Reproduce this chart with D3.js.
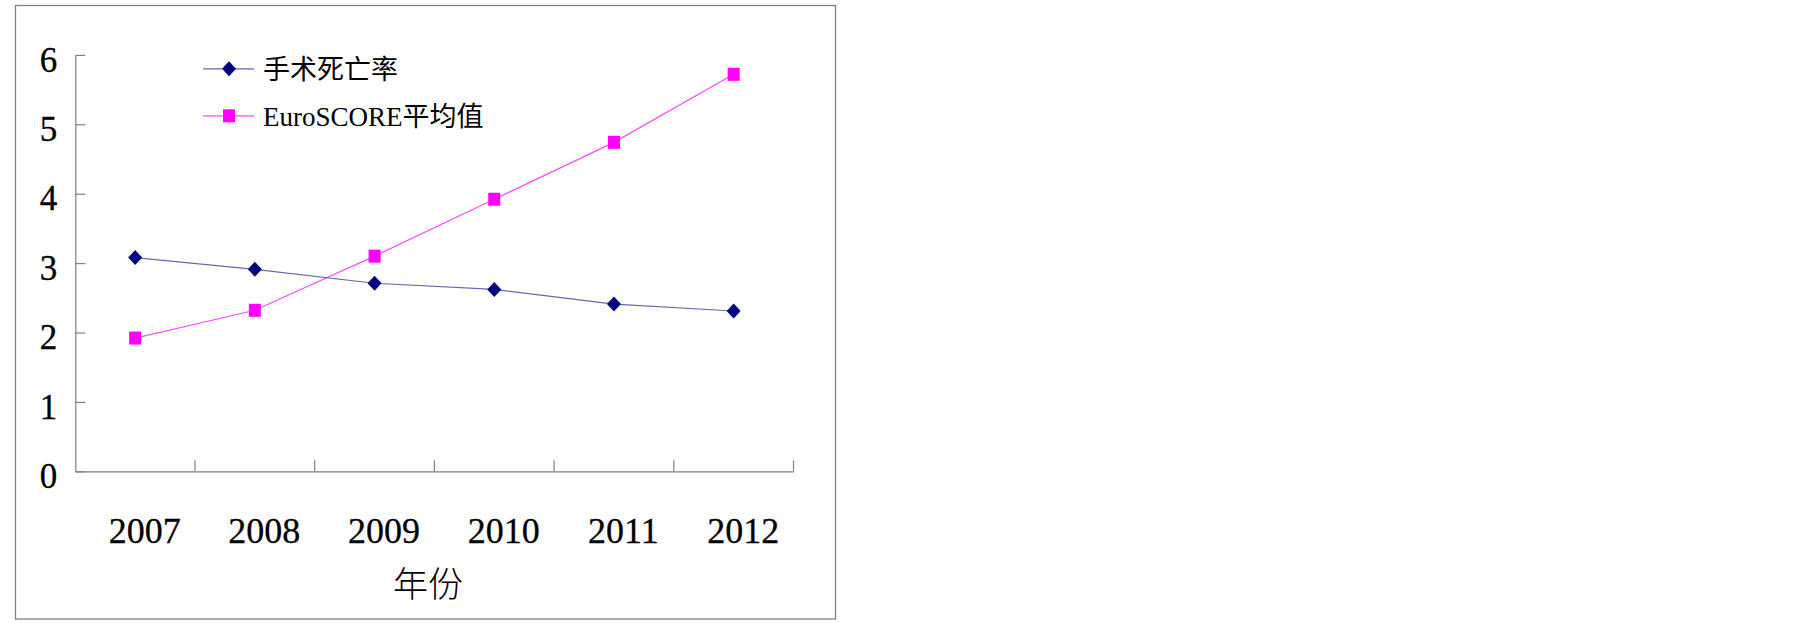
<!DOCTYPE html>
<html>
<head>
<meta charset="utf-8">
<script src="https://cdn.jsdelivr.net/npm/d3@7"></script>
<style>
    body { margin: 0; background: #fff; }
    .frame { fill: none; stroke: #808080; stroke-width: 1.3; }
    .axis path, .axis line { stroke: #808080; stroke-width: 1.2; }
    .axis text { font-family: "Liberation Serif", "Times New Roman", serif; fill: #000; }
    .legend text { font-family: "Liberation Serif", "Noto Sans CJK SC", serif; font-size: 27px; }
</style>
</head>
<body>
<script>
//chart data
var years = ["2007", "2008", "2009", "2010", "2011", "2012"];
var mortality = [3.08, 2.91, 2.71, 2.62, 2.41, 2.31];
var euroscore = [1.92, 2.32, 3.10, 3.92, 4.74, 5.72];
var yTicks = [0, 1, 2, 3, 4, 5, 6];
var seriesNames = ["手术死亡率", "EuroSCORE平均值"];
var xTitle = "年份";

window.onload = drawChart();

function drawChart(){
    var width = 1805,
        height = 623;

    var svg = d3.select("body")
        .append("svg")
        .attr("width", width)
        .attr("height", height);

    //outer chart frame
    svg.append("rect")
        .attr("class", "frame")
        .attr("x", 15.5)
        .attr("y", 5.5)
        .attr("width", 820)
        .attr("height", 613.5);

    //scales
    var x = d3.scaleBand()
        .domain(years)
        .range([75.3, 793.5]);

    var y = d3.scaleLinear()
        .domain([0, 6])
        .range([471.3, 54.9]);

    var cx = function(d, i){ return x(years[i]) + x.bandwidth() / 2; };

    //y axis with inward ticks
    var yAxis = svg.append("g")
        .attr("class", "axis")
        .attr("transform", "translate(" + x.range()[0] + ",0)")
        .call(d3.axisLeft(y)
            .tickValues(yTicks)
            .tickFormat(d3.format("d"))
            .tickSizeInner(-10)
            .tickSizeOuter(0)
            .tickPadding(18));
    yAxis.attr("font-family", null);
    yAxis.selectAll("text")
        .attr("font-size", "35px")
        .attr("stroke", "#000")
        .attr("stroke-width", 0.3)
        .attr("dy", "0.46em");

    //x axis: line plus category boundary ticks
    var xAxis = svg.append("g")
        .attr("class", "axis")
        .attr("transform", "translate(0," + y(0) + ")")
        .call(d3.axisBottom(x)
            .tickSize(0)
            .tickSizeOuter(0)
            .tickPadding(0));
    xAxis.attr("font-family", null);
    xAxis.selectAll("text")
        .attr("font-size", "36px")
        .attr("stroke", "#000")
        .attr("stroke-width", 0.3)
        .attr("dx", "9.5")
        .attr("dy", null)
        .attr("y", 72);

    xAxis.selectAll(".bound")
        .data(years)
        .enter()
        .append("line")
        .attr("class", "bound")
        .attr("x1", function(d){ return x(d) + x.bandwidth(); })
        .attr("x2", function(d){ return x(d) + x.bandwidth(); })
        .attr("y1", 0)
        .attr("y2", -11);

    //x axis title
    svg.append("text")
        .attr("x", 428)
        .attr("y", 597)
        .attr("text-anchor", "middle")
        .attr("font-family", "Noto Sans CJK SC")
        .attr("font-weight", 300)
        .attr("font-size", "35px")
        .text(xTitle);

    //lines
    var line = d3.line()
        .x(cx)
        .y(function(d){ return y(d); });

    svg.append("path")
        .datum(mortality)
        .attr("fill", "none")
        .attr("stroke", "#000080")
        .attr("stroke-opacity", 0.6)
        .attr("stroke-width", 1.2)
        .attr("d", line);

    svg.append("path")
        .datum(euroscore)
        .attr("fill", "none")
        .attr("stroke", "#ff00ff")
        .attr("stroke-opacity", 0.7)
        .attr("stroke-width", 1.2)
        .attr("d", line);

    //markers
    var diamond = "M0,-7.5L7,0L0,7.5L-7,0Z";

    svg.selectAll(".diamond")
        .data(mortality)
        .enter()
        .append("path")
        .attr("class", "diamond")
        .attr("d", diamond)
        .attr("fill", "#000080")
        .attr("transform", function(d, i){
            return "translate(" + cx(d, i) + "," + y(d) + ")";
        });

    svg.selectAll(".square")
        .data(euroscore)
        .enter()
        .append("rect")
        .attr("class", "square")
        .attr("x", function(d, i){ return cx(d, i) - 6; })
        .attr("y", function(d){ return y(d) - 6.5; })
        .attr("width", 12)
        .attr("height", 13)
        .attr("fill", "#ff00ff");

    //legend
    var legend = svg.append("g")
        .attr("class", "legend");

    var items = legend.selectAll(".item")
        .data(seriesNames)
        .enter()
        .append("g")
        .attr("class", "item")
        .attr("transform", function(d, i){
            return "translate(203," + (68.8 + i * 47) + ")";
        });

    items.append("line")
        .attr("x1", 0)
        .attr("x2", 51)
        .attr("stroke", function(d, i){ return i == 0 ? "#000080" : "#ff00ff"; })
        .attr("stroke-opacity", function(d, i){ return i == 0 ? 0.6 : 0.7; })
        .attr("stroke-width", 1.2);

    items.filter(function(d, i){ return i == 0; })
        .append("path")
        .attr("d", diamond)
        .attr("fill", "#000080")
        .attr("transform", "translate(26,0)");

    items.filter(function(d, i){ return i == 1; })
        .append("rect")
        .attr("x", 20)
        .attr("y", -6.5)
        .attr("width", 12)
        .attr("height", 13)
        .attr("fill", "#ff00ff");

    items.append("text")
        .attr("x", 60)
        .attr("dy", "0.36em")
        .text(function(d){ return d; });
};
</script>
</body>
</html>
